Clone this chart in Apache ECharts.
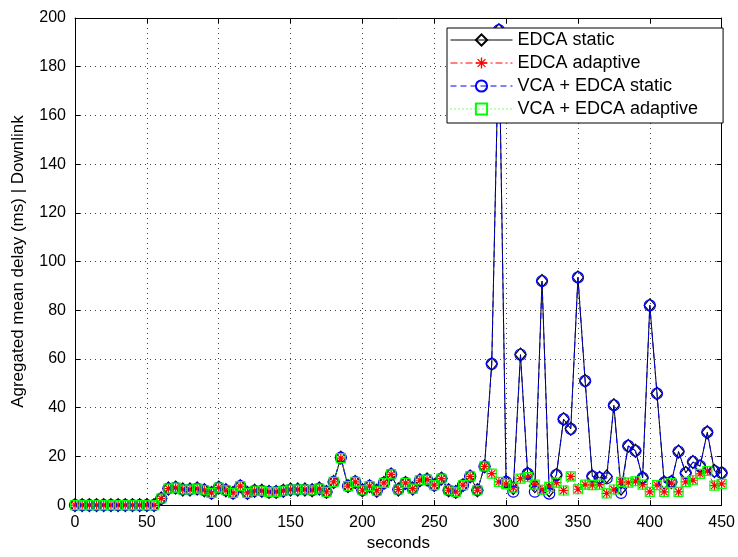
<!DOCTYPE html>
<html>
<head>
<meta charset="utf-8">
<script src="https://cdn.jsdelivr.net/npm/echarts@6/dist/echarts.min.js"></script>
<style>
html,body{margin:0;padding:0;background:#fff;}
#chart{width:738px;height:557px;}
</style>
</head>
<body>
<div id="chart"></div>
<script>
// sample times (seconds), one sample every 5 s from 0 to 450
const seconds = Array.from({length: 91}, (_, i) => i * 5);

const edcaStatic = [
  0,0,0,0,0,0,0,0,0,0,0,0,
  2.7,6.8,7.2,6.4,6.4,6.8,6.1,5.0,7.2,6.1,5.0,7.8,5.0,5.9,5.9,5.4,5.4,5.9,
  6.4,6.4,6.4,6.1,6.8,5.4,9.5,19.5,7.8,9.5,6.1,7.8,5.9,9.1,12.6,6.4,9.1,6.8,
  10.2,10.5,8.2,10.9,6.1,5.4,8.2,11.8,6.1,15.9,
  58,195,9.5,7.0,61.8,12.9,7.8,92,6.1,12.4,35.3,31.3,93.5,51,11.8,11.2,11.8,
  41,6.8,24.3,22.3,11.2,82,45.8,9.3,9.5,22,13.2,17.7,16,29.9,14,13.2
];
const edcaAdaptive = [
  0,0,0,0,0,0,0,0,0,0,0,0,
  2.7,6.8,7.2,6.4,6.4,6.8,6.1,5.0,7.2,6.1,5.0,7.8,5.0,5.9,5.9,5.4,5.4,5.9,
  6.4,6.4,6.4,6.1,6.8,5.4,9.5,19.3,7.8,9.5,6.1,7.8,5.9,9.1,12.6,6.4,9.1,6.8,
  10.2,10.5,8.2,10.9,6.1,5.4,8.2,11.8,6.1,15.9,
  12.9,9.5,8.6,7.2,10.9,11.5,8.4,6.3,7.5,9.2,6.0,11.8,6.5,8.4,8.2,8.4,4.8,
  6.4,9.5,9.2,9.8,8.4,5.4,8.2,5.4,9.0,5.4,9.5,10.2,12.8,14.0,8.0,8.7
];
const vcaStatic = [
  0,0,0,0,0,0,0,0,0,0,0,0,
  2.7,6.8,7.2,6.4,6.4,6.8,6.1,5.0,7.2,6.1,5.0,7.8,5.0,5.9,5.9,5.4,5.4,5.9,
  6.4,6.4,6.4,6.1,6.8,5.4,9.5,19.5,7.8,9.5,6.1,7.8,5.9,9.1,12.6,6.4,9.1,6.8,
  10.2,10.5,8.2,10.9,6.1,5.4,8.2,11.8,6.1,15.9,
  58,195,9.5,5.5,61.8,12.9,5.5,92,4.7,12.4,35.3,31.3,93.5,51,11.8,11.2,11.0,
  41,5.0,24.3,22.3,11.2,82,45.8,9.3,9.5,22,13.2,17.7,16,29.9,14,13.2
];
const vcaAdaptive = [
  0,0,0,0,0,0,0,0,0,0,0,0,
  2.7,6.8,7.2,6.4,6.4,6.8,6.1,5.0,7.2,6.1,5.0,7.8,5.0,5.9,5.9,5.4,5.4,5.9,
  6.4,6.4,6.4,6.1,6.8,5.4,9.5,19.3,7.8,9.5,6.1,7.8,5.9,9.1,12.6,6.4,9.1,6.8,
  10.2,10.5,8.2,10.9,6.1,5.4,8.2,11.8,6.1,15.9,
  12.9,9.5,8.6,7.2,10.9,11.5,8.4,6.3,7.5,9.2,6.0,11.8,6.5,8.4,8.2,8.4,4.8,
  6.4,9.5,9.2,9.8,8.4,5.4,8.2,5.4,9.0,5.4,9.5,10.2,12.8,14.0,8.0,8.7
];

const seriesNames = ['EDCA static', 'EDCA adaptive', 'VCA + EDCA static', 'VCA + EDCA adaptive'];
const xTicks = {min: 0, max: 450, step: 50};
const yTicks = {min: 0, max: 200, step: 20};

const pairs = (ys) => seconds.map((t, i) => [t, ys[i]]);

const asterisk = 'path://M44,0 L56,0 L56,100 L44,100 Z M0,44 L100,44 L100,56 L0,56 Z M19,11 L89,81 L81,89 L11,19 Z M81,11 L89,19 L19,89 L11,81 Z';

const FONT = 'Liberation Sans, Arial, Helvetica, sans-serif';

const styles = [
  {color: '#000000', line: 'solid', symbol: 'diamond', size: [11, 13], filled: false},
  {color: '#ff0000', line: [7, 3, 2, 3], symbol: asterisk, size: 10, filled: true},
  {color: '#0000ff', line: [6, 4], symbol: 'circle', size: 11, filled: false},
  {color: '#00ff00', line: [1, 3], symbol: 'rect', size: 9, filled: false}
];

function mkSeries(i, data) {
  const s = styles[i];
  return {
    name: seriesNames[i],
    type: 'line',
    z: 2,
    data: data,
    symbol: s.symbol,
    symbolSize: s.size,
    showAllSymbol: true,
    clip: true,
    color: s.color,
    lineStyle: {color: s.color, width: 1, type: s.line},
    itemStyle: s.filled ? {color: s.color} : {color: 'rgba(0,0,0,0)', borderColor: s.color, borderWidth: 1.2},
    emphasis: {disabled: true}
  };
}

const axisCommon = {
  axisLine: {show: true, onZero: false, lineStyle: {color: '#000', width: 1}},
  axisTick: {show: true, inside: true, length: 5, lineStyle: {color: '#000'}}
};

const chart = echarts.init(document.getElementById('chart'), null, {renderer: 'canvas'});
chart.setOption({
  animation: false,
  backgroundColor: '#fff',
  textStyle: {fontFamily: FONT},
  grid: {left: 75, right: 14, top: 18, bottom: 49, containLabel: false},
  legend: {
    data: seriesNames,
    orient: 'vertical',
    left: 447,
    top: 28,
    itemWidth: 62,
    itemHeight: 14,
    itemGap: 5,
    padding: [3, 25, 5, 3],
    backgroundColor: '#fff',
    borderColor: '#000',
    borderWidth: 1,
    borderRadius: 0,
    lineStyle: {width: 1},
    selectedMode: false,
    textStyle: {fontSize: 18, color: '#000', fontFamily: FONT},
    z: 20
  },
  xAxis: [Object.assign({
    type: 'value', min: xTicks.min, max: xTicks.max, interval: xTicks.step,
    name: 'seconds', nameLocation: 'middle', nameGap: 29,
    nameTextStyle: {fontSize: 17, color: '#000'},
    axisLabel: {fontSize: 16, color: '#000', margin: 9},
    splitLine: {show: true, lineStyle: {color: '#444', width: 1, type: [1, 4]}}
  }, axisCommon), Object.assign({
    type: 'value', position: 'top', min: xTicks.min, max: xTicks.max, interval: xTicks.step,
    axisLabel: {show: false},
    splitLine: {show: false}
  }, axisCommon)],
  yAxis: [Object.assign({
    type: 'value', min: yTicks.min, max: yTicks.max, interval: yTicks.step,
    name: 'Agregated mean delay (ms) | Downlink', nameLocation: 'middle', nameGap: 48,
    nameTextStyle: {fontSize: 17, color: '#000'},
    axisLabel: {fontSize: 16, color: '#000', margin: 9},
    splitLine: {show: true, lineStyle: {color: '#444', width: 1, type: [1, 4]}}
  }, axisCommon), Object.assign({
    type: 'value', position: 'right', min: yTicks.min, max: yTicks.max, interval: yTicks.step,
    axisLabel: {show: false},
    splitLine: {show: false}
  }, axisCommon)],
  series: [
    mkSeries(0, pairs(edcaStatic)),
    mkSeries(1, pairs(edcaAdaptive)),
    mkSeries(2, pairs(vcaStatic)),
    mkSeries(3, pairs(vcaAdaptive))
  ]
});
</script>
</body>
</html>
